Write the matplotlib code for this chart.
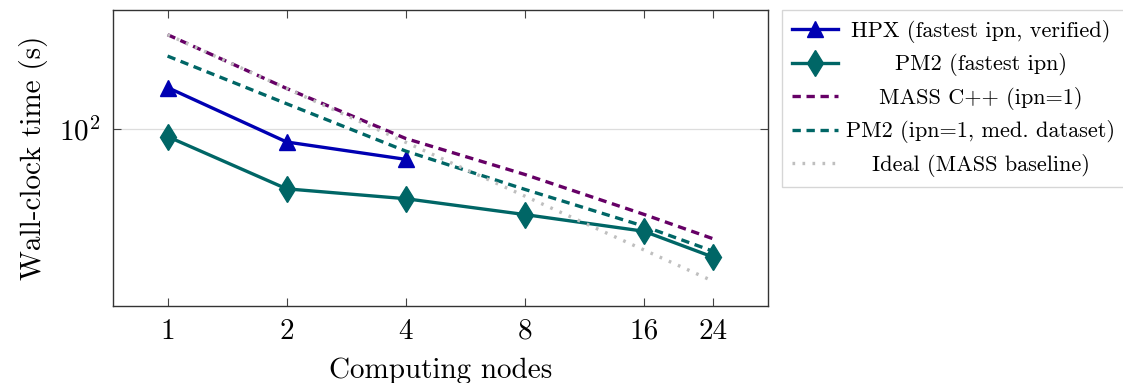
import matplotlib
matplotlib.use('Agg')
import matplotlib.pyplot as plt
from matplotlib.ticker import FixedLocator, NullLocator, NullFormatter
import numpy as np

plt.rcParams['font.family'] = 'cmr10'
plt.rcParams['mathtext.fontset'] = 'cm'
plt.rcParams['axes.formatter.use_mathtext'] = True

nodes = [1, 2, 4, 8, 16, 24]
hpx_nodes = [1, 2, 4]
hpx_fastest = [170, 84.3, 67.4]
pm2_fastest = [90.4, 46.1, 40.6, 33.1, 26.7, 19.1]
mass_cpp = [336, 168, 88.2, 55.5, 33.2, 24.2]
pm2_med = [255, 138, 75, 45.8, 28.5, 20.6]
mass_baseline = 336
ideal = [mass_baseline / n for n in nodes]

blue = '#0000b3'
teal = '#006666'
purple = '#660066'
gray = '#bfbfbf'

fig = plt.figure(figsize=(11.23, 3.83), dpi=100)
ax = fig.add_axes([113/1123, 1-306/383, 655/1123, 296/383])

ax.plot(hpx_nodes, hpx_fastest, color=blue, lw=2.4, marker='^', ms=12,
        label='HPX (fastest ipn, verified)')
ax.plot(nodes, pm2_fastest, color=teal, lw=2.4, marker='d', ms=13,
        label='PM2 (fastest ipn)')
ax.plot(nodes, mass_cpp, color=purple, lw=2.4, ls=(0, (2.5, 1.7)),
        label='MASS C++ (ipn=1)')
ax.plot(nodes, pm2_med, color=teal, lw=2.4, ls=(0, (2.5, 1.7)),
        label='PM2 (ipn=1, med. dataset)')
ax.plot(nodes, ideal, color=gray, lw=2.4, ls=(0, (0.8, 2.2)),
        label='Ideal (MASS baseline)')

ax.set_xscale('log', base=2)
ax.set_yscale('log')

# pgfplots-style enlarged limits (10% of the log range on each side)
lx0, lx1 = np.log2(1), np.log2(24)
ex = 0.1 * (lx1 - lx0)
ax.set_xlim(2 ** (lx0 - ex), 2 ** (lx1 + ex))
ly0, ly1 = np.log10(min(ideal)), np.log10(mass_baseline)
ey = 0.1 * (ly1 - ly0)
ax.set_ylim(10 ** (ly0 - ey), 10 ** (ly1 + ey))

ax.xaxis.set_major_locator(FixedLocator(nodes))
ax.set_xticklabels([str(n) for n in nodes])
ax.xaxis.set_minor_locator(NullLocator())
ax.yaxis.set_major_locator(FixedLocator([100]))
ax.set_yticklabels([r'$10^2$'])
ax.yaxis.set_minor_locator(NullLocator())
ax.yaxis.set_minor_formatter(NullFormatter())

ax.tick_params(which='major', direction='in', top=True, right=True,
               length=6, width=0.8, color='#444444', labelsize=21, pad=9)
ax.grid(True, axis='y', color='#dddddd', lw=0.9)
ax.set_axisbelow(True)
for s in ax.spines.values():
    s.set_color('#333333')
    s.set_linewidth(1.0)

ax.set_xlabel('Computing nodes', fontsize=21, labelpad=9)
ax.set_ylabel('Wall-clock time (s)', fontsize=21, labelpad=8)

leg = ax.legend(loc='upper left', bbox_to_anchor=(1.021, 1.0), fontsize=16,
                frameon=True, fancybox=False, edgecolor='#cccccc',
                handlelength=2.1, handletextpad=0.35, labelspacing=0.47,
                borderpad=0.45, borderaxespad=0)
leg.get_frame().set_linewidth(1.0)

# center the legend entries like pgfplots
fig.canvas.draw()
r = fig.canvas.get_renderer()
texts = leg.get_texts()
widths = [t.get_window_extent(r).width for t in texts]
wmax = max(widths)
for t, w in zip(texts, widths):
    t.set_position(((wmax - w) / 2, 0))

fig.savefig('out.png', dpi=100)
